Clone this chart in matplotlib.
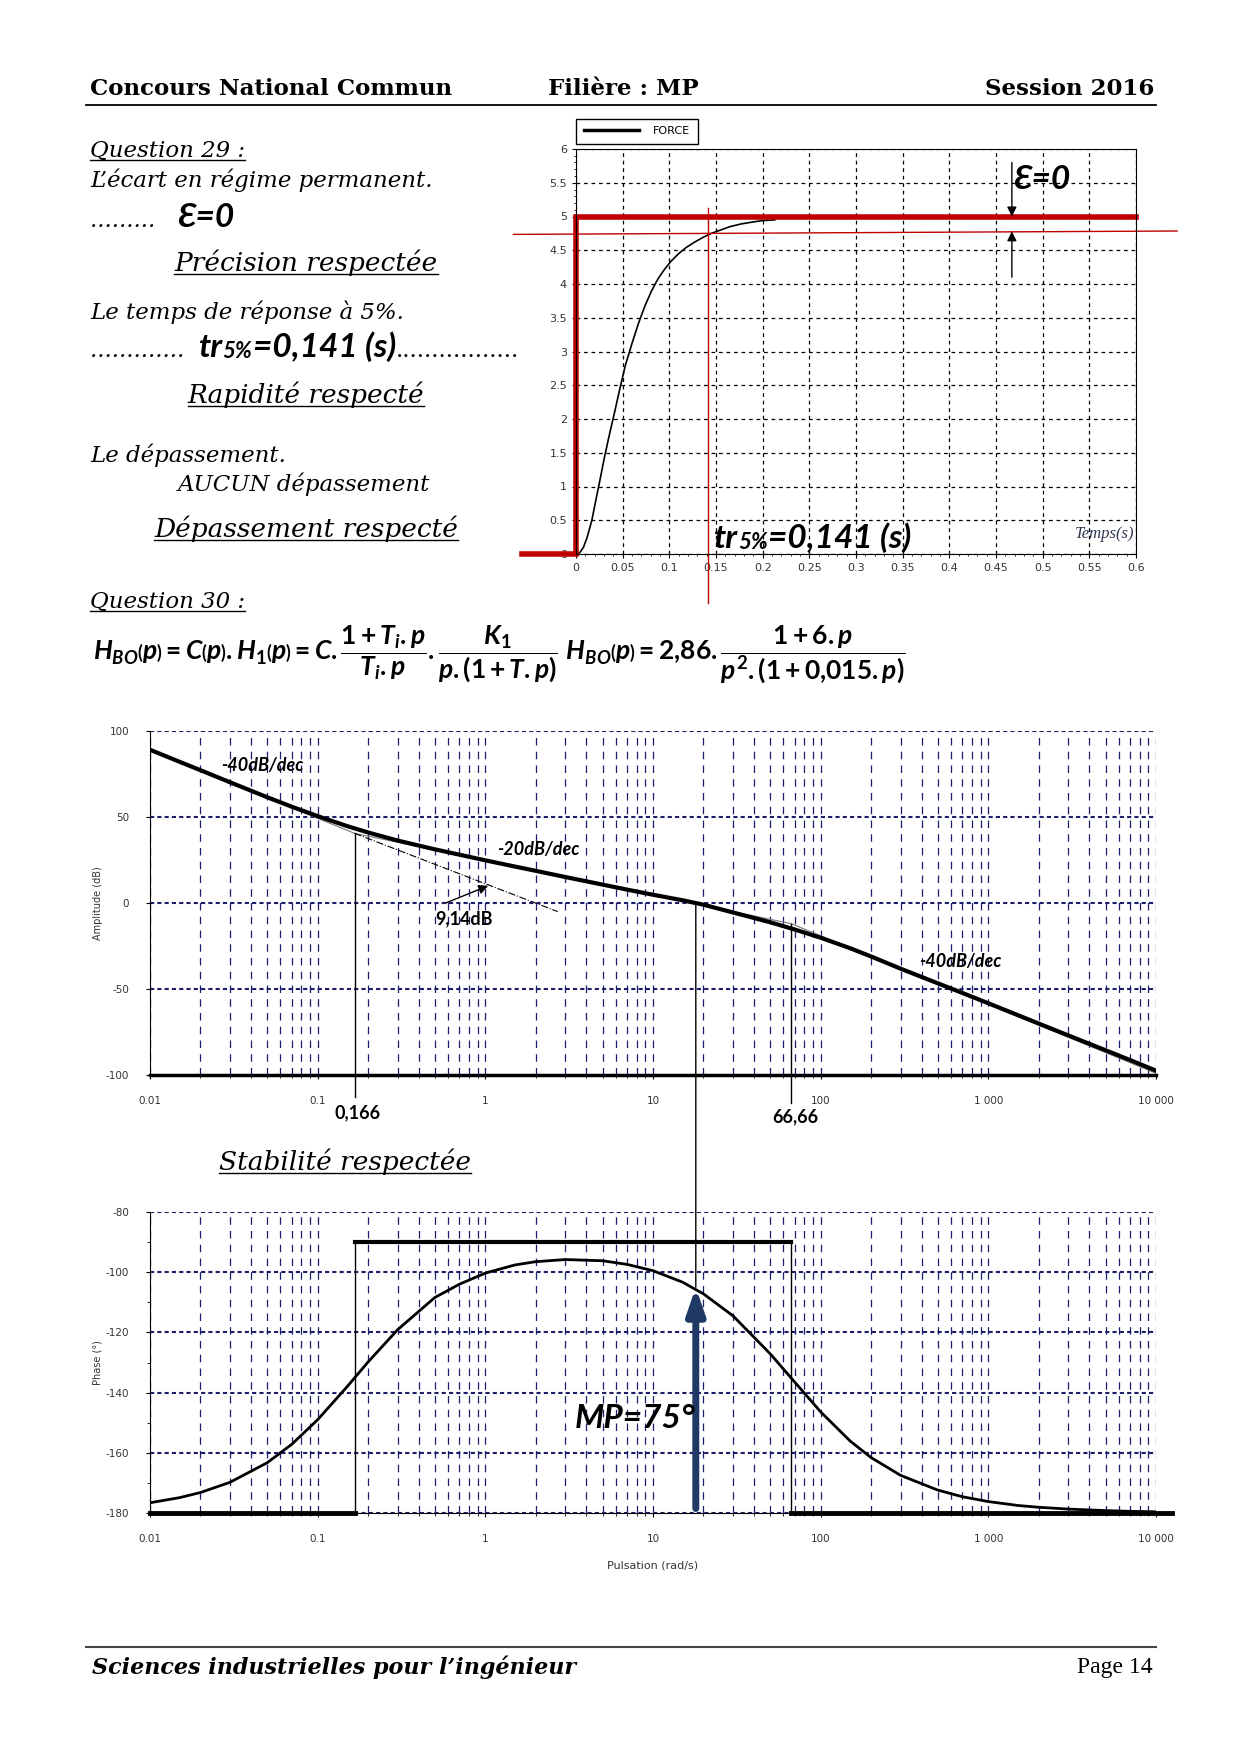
import numpy as np
import matplotlib.pyplot as plt
from matplotlib.lines import Line2D
from matplotlib.text import Annotation
from matplotlib.patches import ConnectionPatch
from matplotlib.ticker import FixedLocator, FixedFormatter, NullFormatter, MultipleLocator

plt.rcParams['mathtext.fontset'] = 'custom'
plt.rcParams['mathtext.rm'] = 'Lato:bold'
plt.rcParams['mathtext.it'] = 'Lato:italic:bold'
plt.rcParams['mathtext.bf'] = 'Lato:bold'
plt.rcParams['axes.unicode_minus'] = False

# --- step response ---
t_step = [0, 0.004, 0.008, 0.012, 0.017, 0.021, 0.025, 0.03, 0.035, 0.041, 0.047,
          0.053, 0.06, 0.067, 0.074, 0.081, 0.088, 0.095, 0.102, 0.11, 0.118,
          0.127, 0.136, 0.145, 0.155, 0.165, 0.177, 0.19, 0.2, 0.213]
y_step = [0, 0.02, 0.1, 0.25, 0.5, 0.78, 1.05, 1.4, 1.72, 2.08, 2.45,
          2.8, 3.12, 3.42, 3.68, 3.9, 4.08, 4.22, 4.34, 4.45, 4.54,
          4.62, 4.69, 4.75, 4.8, 4.85, 4.89, 4.92, 4.94, 4.95]
consigne = 5.0
tr5 = 0.141
seuil5 = [4.735, 4.785]

# --- bode, open loop ---
w_bode = [0.01, 0.015, 0.02, 0.03, 0.05, 0.07, 0.1, 0.15, 0.2, 0.3, 0.5, 0.7,
          1, 1.5, 2, 3, 5, 7, 10, 15, 20, 30, 50, 70, 100, 150, 200, 300, 500,
          700, 1000, 1500, 2000, 3000, 5000, 7000, 10000]
gain_db = [89.1, 82.1, 77.2, 70.2, 61.5, 56.0, 50.5, 44.7, 41.0, 36.3, 31.2, 28.1,
           24.8, 21.2, 18.7, 15.1, 10.7, 7.8, 4.8, 1.6, -1.0, -5.5, -11.2, -15.4,
           -20.2, -26.3, -31.1, -38.2, -46.7, -52.3, -58.3, -65.2, -70.1, -77.0,
           -85.6, -91.3, -97.5]
phase_deg = [-176.6, -174.9, -173.2, -169.8, -163.3, -157.2, -149.0, -138.0, -129.8,
             -119.1, -108.4, -104.0, -100.3, -97.6, -96.5, -95.8, -96.2, -97.4, -99.5,
             -103.3, -107.2, -114.5, -127.1, -136.5, -146.4, -156.1, -161.6, -167.5,
             -172.4, -174.6, -176.2, -177.5, -178.1, -178.7, -179.2, -179.45, -179.6]
asym_w = [0.01, 0.166, 66.66, 10000]
asym_db = [89, 40.5, -12, -99]
w1, w2 = 0.166, 66.66
w_c = 18
marge = 75

W, H = 1240, 1754
def fx(x):
    return x / W
def fy(y):
    return 1 - y / H

fig = plt.figure(figsize=(12.4, 17.54), dpi=100)
navy = '#1b1f6b'
serif = 'DejaVu Serif'
calib = ['Lato', 'DejaVu Sans']

# header / footer
fig.text(fx(90), fy(89), 'Concours National Commun', family=serif, weight='bold', fontsize=16.5, va='center')
fig.text(fx(548), fy(89), 'Filière : MP', family=serif, weight='bold', fontsize=16.5, va='center')
fig.text(fx(1154), fy(89), 'Session 2016', family=serif, weight='bold', fontsize=16.5, va='center', ha='right')
fig.add_artist(Line2D([fx(86), fx(1156)], [fy(105), fy(105)], color='k', lw=1.3))
fig.add_artist(Line2D([fx(86), fx(1156)], [fy(1647), fy(1647)], color='#444444', lw=1.5))
fig.text(fx(92), fy(1667), 'Sciences industrielles pour l\u2019ingénieur', family=serif, weight='bold',
         style='italic', fontsize=16, va='center')
fig.text(fx(1153), fy(1667), 'Page 14', family='Liberation Serif', fontsize=17, va='center', ha='right')

# left column text
under = []
def txt(x, y, s, fs=16.5, ul=False, ha='left', **kw):
    t = fig.text(fx(x), fy(y), s, family=serif, style='italic', fontsize=fs, va='center', ha=ha, **kw)
    if ul:
        under.append(t)
    return t

def after(prev, s, fs, **kw):
    a = Annotation(s, xy=(1, 0), xycoords=prev, va='bottom', ha='left', fontsize=fs,
                   annotation_clip=False, **kw)
    fig.add_artist(a)
    return a

txt(90, 151, 'Question 29 :', ul=True)
txt(90, 180, 'L\u2019écart en régime permanent.')
d = txt(90, 221, '.........   ')
after(d, '\u0190=0', 24, family=calib, weight='bold', style='italic')
txt(306, 263, 'Précision respectée', fs=19, ul=True, ha='center')
txt(90, 312, 'Le temps de réponse à 5%.')
d = txt(90, 351, '.............  ')
a = after(d, 'tr', 24, family=calib, weight='bold', style='italic')
a = after(a, '5%', 16, family=calib, weight='bold', style='italic')
a = after(a, '=0,141 (s)', 24, family=calib, weight='bold', style='italic')
after(a, '.................', 16.5, family=serif)
txt(306, 395, 'Rapidité respecté', fs=19, ul=True, ha='center')
txt(90, 455, 'Le dépassement.')
txt(178, 484, 'AUCUN dépassement')
txt(306, 529, 'Dépassement respecté', fs=19, ul=True, ha='center')
txt(90, 602, 'Question 30 :', ul=True)
txt(345, 1162, 'Stabilité respectée', fs=19, ul=True, ha='center')

formule = (r'$H_{BO}\left(p\right)=C\left(p\right).H_1\left(p\right)=C.\dfrac{1+T_i.p}{T_i.p}.'
           r'\dfrac{K_1}{p.(1+T.p)}\ H_{BO}\left(p\right)=2{,}86.\dfrac{1+6.p}{p^2.(1+0{,}015.p)}$')
fig.text(fx(93), fy(655), formule, fontsize=19, va='center')

# ---------------- step response ----------------
ax1 = fig.add_axes([fx(576), fy(554), (1136 - 576) / W, (554 - 149) / H])
ax1.plot(t_step, y_step, color='k', lw=1.2)
ax1.set_xlim(0, 0.6)
ax1.set_ylim(0, 6)
ax1.set_xticks(np.arange(0, 0.61, 0.05))
ax1.set_xticklabels(['0', '0.05', '0.1', '0.15', '0.2', '0.25', '0.3', '0.35', '0.4', '0.45', '0.5', '0.55', '0.6'])
ax1.set_yticks(np.arange(0, 6.01, 0.5))
ax1.set_yticklabels(['0', '0.5', '1', '1.5', '2', '2.5', '3', '3.5', '4', '4.5', '5', '5.5', '6'])
ax1.xaxis.set_minor_locator(MultipleLocator(0.01))
ax1.yaxis.set_minor_locator(MultipleLocator(0.1))
ax1.tick_params(labelsize=8, labelcolor='#333333', length=3, width=0.8)
ax1.tick_params(which='minor', length=1.5)
ax1.grid(True, color='k', ls=(0, (3, 3)), lw=0.9)
for s in ax1.spines.values():
    s.set_linewidth(0.8)
ax1.legend(handles=[Line2D([], [], color='k', lw=2.5)], labels=['FORCE'], loc='lower left',
           bbox_to_anchor=(0.0, 1.012), borderaxespad=0, fontsize=8, fancybox=False,
           edgecolor='k', framealpha=1, handlelength=5, borderpad=0.7, handletextpad=1.2)
red = '#c00000'
ax1.plot([-0.058, 0, 0, 0.6], [0, 0, consigne, consigne], color=red, lw=4, clip_on=False,
         solid_joinstyle='miter')
ax1.plot([-0.067, 0.644], seuil5, color=red, lw=1, clip_on=False)
ax1.plot([tr5, tr5], [5.12, -0.73], color=red, lw=1, clip_on=False)
ax1.annotate('', xy=(0.467, consigne), xytext=(0.467, 5.8),
             arrowprops=dict(arrowstyle='-|>', color='k', lw=1, mutation_scale=14, shrinkA=0, shrinkB=0))
ax1.annotate('', xy=(0.467, 4.78), xytext=(0.467, 4.1),
             arrowprops=dict(arrowstyle='-|>', color='k', lw=1, mutation_scale=14, shrinkA=0, shrinkB=0))
ax1.text(0.468, 5.55, '\u0190=0', family=calib, weight='bold', style='italic', fontsize=24, va='center')
t0 = ax1.text(0.148, 0.02, 'tr', family=calib, weight='bold', style='italic', fontsize=24, va='bottom')
a = after(t0, '5%', 16, family=calib, weight='bold', style='italic')
after(a, '=0,141 (s)', 24, family=calib, weight='bold', style='italic')
ax1.text(0.598, 0.3, 'Temps(s)', family='Liberation Serif', style='italic', fontsize=12,
         color='#2f3550', ha='right', va='center')

# ---------------- bode magnitude ----------------
dec = [0.01, 0.1, 1, 10, 100, 1000, 10000]
dec_lab = ['0.01', '0.1', '1', '10', '100', '1 000', '10 000']

def bode_axes(ax):
    ax.set_xscale('log')
    ax.set_xlim(0.01, 10000)
    ax.xaxis.set_major_locator(FixedLocator(dec))
    ax.xaxis.set_major_formatter(FixedFormatter(dec_lab))
    ax.xaxis.set_minor_formatter(NullFormatter())
    ax.tick_params(labelsize=7.5, labelcolor='#333333', length=3, width=0.8, pad=12)
    ax.tick_params(which='minor', length=2)
    ax.grid(True, axis='x', which='both', color=navy, ls=(0, (6, 5)), lw=0.9)
    ax.grid(True, axis='y', which='major', color=navy, ls=(0, (2, 1.5)), lw=1.5)
    ax.spines['top'].set_visible(False)
    ax.spines['right'].set_visible(False)

ax2 = fig.add_axes([fx(150), fy(1075), (1156 - 150) / W, (1075 - 731) / H])
bode_axes(ax2)
ax2.set_ylim(-100, 100)
ax2.set_yticks([-100, -50, 0, 50, 100])
ax2.spines['bottom'].set_linewidth(2.5)
ax2.set_ylabel('Amplitude (dB)', fontsize=7, color='#333333', labelpad=2)
ax2.plot(asym_w, asym_db, color='#777777', lw=0.8)
ax2.plot(w_bode, gain_db, color='k', lw=3)
ax2.plot([w1, 2.7], [40.5, -5], color='k', lw=0.8, ls='-.')
ax2.annotate('', xy=(1.04, 10), xytext=(0.58, 0),
             arrowprops=dict(arrowstyle='-|>', color='k', lw=1, mutation_scale=14, shrinkA=0, shrinkB=0))
ax2.text(0.75, -9, '9,14dB', family=calib, weight='bold', fontsize=13, ha='center', va='center')
ax2.plot([w1, w1], [40.5, -113], color='k', lw=1, clip_on=False)
ax2.plot([w2, w2], [-12, -116], color='k', lw=1, clip_on=False)
ax2.text(0.172, -122, '0,166', family=calib, weight='bold', fontsize=13, ha='center', va='center')
ax2.text(71, -124, '66,66', family=calib, weight='bold', fontsize=13, ha='center', va='center')
for x, y, s in [(0.0264, 80, '-40dB/dec'), (1.18, 31, '-20dB/dec'), (388, -34, '-40dB/dec')]:
    ax2.text(x, y, s, family=calib, weight='bold', style='italic', fontsize=13, va='center')

# ---------------- bode phase ----------------
ax3 = fig.add_axes([fx(150), fy(1513), (1156 - 150) / W, (1513 - 1212) / H])
bode_axes(ax3)
ax3.set_ylim(-180, -80)
ax3.set_yticks([-180, -160, -140, -120, -100, -80])
ax3.yaxis.set_minor_locator(MultipleLocator(10))
ax3.set_ylabel('Phase (°)', fontsize=7, color='#333333', labelpad=2)
ax3.set_xlabel('Pulsation (rad/s)', fontsize=8, color='#333333', labelpad=12)
ax3.plot(w_bode, phase_deg, color='k', lw=2)
ax3.plot([0.01, w1], [-180, -180], color='k', lw=3.5, clip_on=False)
ax3.plot([w2, 12400], [-180, -180], color='k', lw=3.5, clip_on=False)
ax3.plot([w1, w1, w2, w2], [-180, -90, -90, -180], color='k', lw=1)
ax3.plot([w1, w2], [-90, -90], color='k', lw=3)
ax3.annotate('', xy=(w_c, -180 + marge), xytext=(w_c, -178.5),
             arrowprops=dict(arrowstyle='-|>,head_width=0.38,head_length=1.1', color='#1f3864', lw=5,
                             mutation_scale=14, shrinkA=0, shrinkB=0))
ax3.text(3.4, -148.7, 'MP=75°', family=calib, style='italic', weight='bold', fontsize=24, va='center')

con = ConnectionPatch(xyA=(w_c, 0), coordsA=ax2.transData, xyB=(w_c, -180 + marge),
                      coordsB=ax3.transData, color='k', lw=1)
fig.add_artist(con)

# underline the titles
fig.canvas.draw()
inv = fig.transFigure.inverted()
for t in under:
    bb = t.get_window_extent()
    (x0, y0), (x1, y1) = inv.transform([(bb.x0, bb.y0), (bb.x1, bb.y1)])
    fig.add_artist(Line2D([x0, x1], [y0 + 0.0012, y0 + 0.0012], color='k', lw=1))

fig.savefig('out.png', dpi=100)
